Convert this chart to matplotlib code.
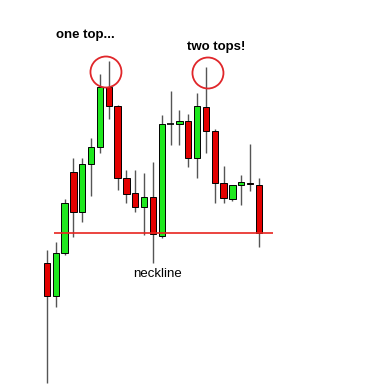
import matplotlib
matplotlib.use("Agg")
import matplotlib.pyplot as plt
from matplotlib.patches import Ellipse

# candle prices (arbitrary units, higher = up)
opens  = [137, 104, 147, 228, 188, 236, 253, 313, 294, 222, 207, 193, 203,
          164, 276, 276, 279, 242, 293, 269, 217, 201, 215, 217, 215]
closes = [104, 147, 197, 188, 236, 253, 313, 294, 222, 206, 193, 203, 166,
          276, 276, 279, 242, 294, 269, 217, 202, 215, 218, 216, 167]
highs  = [150, 158, 201, 242, 242, 262, 326, 339, 295, 230, 230, 227, 238,
          285, 309, 290, 286, 307, 333, 271, 234, 215, 225, 256, 222]
lows   = [17, 93, 145, 163, 178, 204, 247, 281, 210, 197, 188, 165, 137,
          162, 255, 255, 233, 222, 247, 197, 197, 199, 195, 209, 153]
neckline = 167
labels = ["one top...", "two tops!", "neckline"]

fig = plt.figure(figsize=(3.79, 3.92), dpi=100)
ax = fig.add_axes([0, 0, 1, 1])
ax.set_xlim(-5.32, 37.6)
ax.set_ylim(8, 400)
ax.axis("off")

w = 0.72
for i, (o, c, h, l) in enumerate(zip(opens, closes, highs, lows)):
    ax.vlines(i, l, h, color="#555555", lw=1.0, zorder=1)
    if o == c:
        ax.hlines(o, i - w / 2, i + w / 2, color="black", lw=1.2, zorder=2)
        continue
    col = "#1ee81e" if c > o else "#e30000"
    ax.bar(i, abs(c - o), bottom=min(o, c), width=w, color=col,
           edgecolor="black", linewidth=0.7, zorder=2)

ax.hlines(neckline, 0.79, 25.6, color="#e8241f", lw=1.2, zorder=3)

for cx, cy in [(6.68, 328), (18.23, 327)]:
    ax.add_patch(Ellipse((cx, cy), 31 / 8.83, 31, fill=False,
                         edgecolor="#e0262a", lw=1.3, zorder=4))

fig.text(56 / 379, 1 - 35 / 392, labels[0], fontsize=9.5, fontweight="bold",
         family="Liberation Sans", ha="left", va="center")
fig.text(187 / 379, 1 - 47 / 392, labels[1], fontsize=9.5, fontweight="bold",
         family="Liberation Sans", ha="left", va="center")
fig.text(133 / 379, 1 - 274 / 392, labels[2], fontsize=9.5,
         family="Liberation Sans", ha="left", va="center")

fig.savefig("out.png", dpi=100, facecolor="white")
